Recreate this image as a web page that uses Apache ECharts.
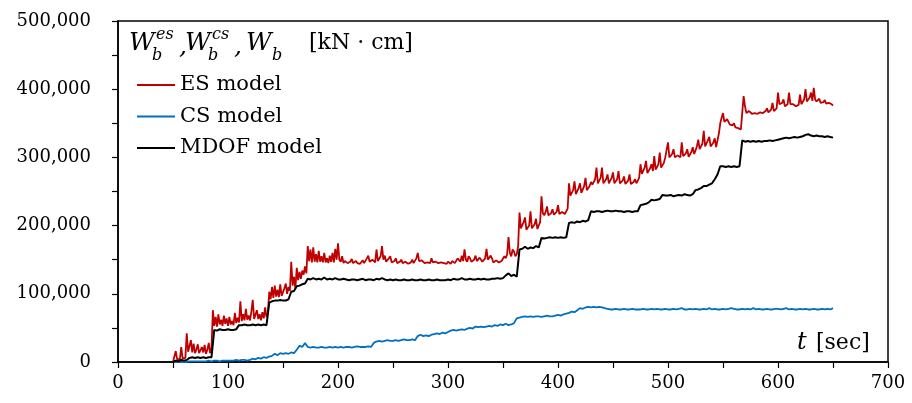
<!DOCTYPE html>
<html>
<head>
<meta charset="utf-8">
<script src="https://cdn.jsdelivr.net/npm/echarts@6/dist/echarts.min.js"></script>
<style>
  html, body { margin: 0; padding: 0; background: #fff; }
  #chart { width: 912px; height: 403px; }
</style>
</head>
<body>
<div id="chart"></div>
<script>
// Sampling grids of the response histories (seconds)
const T_START = 50;
const ES_STEP = 1.25;   // ES history is kept at a finer step
const T_STEP = 2.5;     // CS and MDOF histories
// Stored values are in thousands of kN·cm
const UNIT = 1000;

const seriesNames = ['ES model', 'CS model', 'MDOF model'];

// Cumulative energy, ES model (one row = 25 s)
const esModel = [
  0, 8, 16, 4, 5, 4, 22, 5, 4, 6, 42, 15, 13, 32, 14, 27, 13, 18, 26, 13,
  12, 22, 14, 25, 12, 18, 28, 13, 20, 76, 53, 66, 52, 70, 55, 62, 53, 68, 56, 64,
  53, 66, 55, 60, 54, 72, 57, 65, 58, 89, 60, 70, 61, 78, 62, 68, 61, 74, 91, 63,
  62, 76, 63, 70, 61, 73, 64, 80, 66, 72, 103, 92, 110, 94, 112, 96, 106, 95, 114, 97,
  98, 108, 115, 100, 110, 104, 147, 112, 125, 108, 138, 120, 132, 122, 134, 128, 140, 130, 170, 148,
  165, 146, 168, 147, 158, 146, 163, 147, 155, 146, 160, 146, 152, 145, 156, 147, 160, 146, 166, 150,
  174, 150, 147, 155, 145, 148, 150, 145, 144, 147, 151, 145, 146, 148, 145, 147, 144, 146, 149, 145,
  145, 152, 156, 147, 146, 150, 152, 146, 165, 148, 146, 155, 170, 150, 156, 147, 148, 152, 155, 146,
  145, 148, 152, 145, 144, 147, 150, 145, 145, 147, 148, 144, 144, 146, 150, 145, 145, 152, 160, 148,
  146, 149, 150, 145, 144, 146, 148, 145, 152, 146, 145, 147, 148, 145, 144, 146, 147, 145, 145, 144,
  147, 145, 144, 148, 150, 145, 145, 152, 153, 147, 156, 148, 165, 150, 147, 155, 152, 147, 146, 150,
  156, 148, 147, 153, 150, 147, 146, 152, 166, 150, 148, 156, 152, 146, 145, 149, 150, 146, 146, 148,
  148, 155, 152, 158, 183, 160, 155, 165, 162, 155, 158, 170, 219, 196, 195, 205, 212, 194, 192, 200,
  221, 196, 194, 202, 210, 195, 196, 205, 243, 218, 215, 220, 228, 215, 214, 218, 224, 216, 215, 220,
  230, 217, 216, 220, 222, 217, 217, 225, 262, 244, 243, 252, 265, 246, 245, 255, 262, 248, 250, 258,
  270, 252, 252, 258, 264, 260, 260, 268, 285, 262, 262, 270, 285, 262, 261, 268, 275, 262, 262, 270,
  278, 262, 260, 268, 280, 262, 262, 266, 272, 261, 260, 266, 275, 261, 260, 264, 268, 262, 262, 270,
  290, 276, 275, 285, 295, 277, 276, 284, 290, 280, 302, 282, 280, 290, 307, 285, 285, 292, 300, 298,
  322, 300, 298, 305, 312, 300, 300, 303, 305, 300, 322, 302, 300, 306, 312, 301, 302, 308, 315, 305,
  310, 316, 326, 312, 312, 320, 339, 316, 315, 325, 330, 316, 318, 322, 328, 315, 315, 335, 350, 358,
  365, 352, 352, 356, 358, 348, 348, 347, 350, 344, 344, 343, 342, 341, 341, 390, 375, 365, 365, 368,
  370, 364, 363, 365, 366, 364, 364, 366, 367, 365, 365, 368, 372, 366, 366, 370, 380, 368, 368, 372,
  395, 378, 376, 380, 385, 375, 374, 378, 395, 378, 376, 378, 378, 375, 375, 377, 392, 378, 377, 385,
  400, 382, 380, 388, 395, 383, 402, 385, 382, 384, 386, 380, 379, 381, 384, 379, 378, 380, 382, 378,
  376
];

// Cumulative energy, CS model (one row = 25 s)
const csModel = [
  0, 0, 0, 0, 0, 0, 1, 1, 1, 1,
  1, 1, 1, 2, 1, 2, 2, 1, 2, 2,
  2, 2, 2, 3, 2, 3, 3, 2, 3, 5,
  4, 6, 5, 7, 6, 8, 9, 12, 10, 13,
  12, 13, 12, 14, 13, 18, 24, 22, 28, 22,
  21, 22, 21, 21, 22, 21, 21, 22, 21, 22,
  21, 22, 21, 22, 22, 21, 22, 23, 22, 22,
  22, 23, 22, 28, 30, 31, 30, 31, 32, 31,
  31, 32, 31, 32, 33, 32, 32, 33, 32, 38,
  40, 38, 39, 38, 40, 41, 42, 41, 43, 42,
  44, 46, 47, 46, 47, 48, 47, 49, 50, 49,
  52, 51, 52, 51, 52, 53, 52, 54, 53, 55,
  54, 56, 54, 55, 57, 64, 65, 66, 67, 66,
  67, 66, 67, 67, 66, 67, 68, 67, 67, 68,
  69, 68, 70, 71, 72, 74, 73, 76, 79, 78,
  80, 81, 80, 81, 80, 81, 80, 79, 78, 77,
  77, 78, 77, 77, 78, 77, 77, 78, 77, 77,
  77, 78, 77, 77, 78, 77, 78, 77, 77, 78,
  77, 77, 78, 77, 78, 79, 77, 77, 78, 77,
  78, 77, 77, 78, 77, 79, 77, 78, 77, 77,
  78, 77, 78, 79, 78, 77, 77, 78, 77, 78,
  77, 79, 77, 78, 77, 77, 78, 77, 77, 78,
  78, 77, 78, 79, 77, 78, 77, 77, 78, 77,
  78, 77, 77, 78, 77, 77, 78, 77, 78, 77,
  79
];

// Cumulative energy, MDOF model (one row = 25 s)
const mdofModel = [
  0, 2, 1, 3, 2, 3, 6, 7, 6, 7,
  6, 7, 6, 7, 7, 47, 46, 48, 47, 47,
  48, 47, 47, 48, 54, 54, 55, 54, 54, 55,
  54, 55, 54, 55, 54, 87, 89, 90, 90, 91,
  90, 90, 92, 103, 104, 111, 112, 114, 115, 122,
  121, 123, 121, 122, 121, 124, 121, 122, 121, 123,
  121, 121, 122, 121, 120, 121, 121, 120, 121, 122,
  120, 121, 121, 120, 122, 121, 123, 121, 120, 121,
  120, 121, 120, 120, 121, 120, 120, 121, 120, 120,
  121, 120, 120, 121, 120, 120, 121, 120, 120, 120,
  121, 120, 122, 121, 121, 123, 121, 121, 122, 121,
  121, 122, 121, 122, 121, 121, 122, 122, 123, 122,
  123, 127, 130, 126, 128, 125, 165, 166, 169, 166,
  168, 167, 170, 168, 182, 181, 182, 183, 182, 183,
  182, 183, 182, 183, 204, 205, 204, 206, 205, 207,
  206, 208, 221, 220, 221, 221, 220, 221, 222, 221,
  221, 222, 221, 221, 220, 221, 221, 220, 221, 221,
  230, 231, 232, 234, 238, 237, 238, 239, 245, 244,
  244, 245, 243, 244, 245, 244, 246, 245, 244, 246,
  252, 253, 255, 258, 258, 260, 262, 268, 275, 287,
  287, 286, 287, 286, 287, 286, 287, 325, 323, 324,
  323, 324, 323, 324, 323, 324, 324, 325, 324, 325,
  326, 327, 328, 329, 328, 329, 330, 329, 330, 331,
  333, 334, 332, 331, 332, 331, 331, 330, 331, 330,
  329
];

// Axis ranges and ticks
const xTicks = { min: 0, max: 700, interval: 100 };
const yTicks = { min: 0, max: 500000, interval: 100000 };

const toPairs = (vals, step) => vals.map((v, i) => [T_START + i * step, v * UNIT]);

const FONT = 'DejaVu Serif';
const colors = ['#C00000', '#0070C0', '#000000'];
const lineWidths = [1.8, 1.8, 2];
const steps = [ES_STEP, T_STEP, T_STEP];

const chart = echarts.init(document.getElementById('chart'), null, { renderer: 'canvas' });

const axisCommon = {
  axisLine: { show: true, lineStyle: { color: '#000', width: 1.5 } },
  axisTick: { show: true, inside: false, length: 6, lineStyle: { color: '#000', width: 1.2 } },
  minorTick: { show: true, splitNumber: 2, length: 6, lineStyle: { color: '#000', width: 1.2 } },
  splitLine: { show: false },
  minorSplitLine: { show: false }
};

// Axis-title style label: W_b^es, W_b^cs, W_b  [kN · cm]
const italicBig = 'italic 25px "' + FONT + '"';
const italicSmall = 'italic 16px "' + FONT + '"';
function txt(x, y, text, font) {
  return {
    type: 'text', x: x, y: y, silent: true,
    style: { text: text, font: font, fill: '#000', textVerticalAlign: 'middle' }
  };
}
const titleParts = [
  txt(129, 43, 'W', italicBig),
  txt(156, 35, 'es', italicSmall),
  txt(152, 56, 'b', italicSmall),
  txt(179, 47, ',', italicBig),
  txt(185, 43, 'W', italicBig),
  txt(212, 35, 'cs', italicSmall),
  txt(208, 56, 'b', italicSmall),
  txt(234, 47, ',', italicBig),
  txt(246, 43, 'W', italicBig),
  txt(272, 56, 'b', italicSmall),
  txt(309, 43, '[kN · cm]', '22px "' + FONT + '"'),
  txt(797, 343, 't', 'italic 24px "' + FONT + '"'),
  txt(816, 343, '[sec]', '22px "' + FONT + '"')
];

chart.setOption({
  animation: false,
  backgroundColor: '#fff',
  grid: {
    left: 118, right: 24, top: 21, bottom: 41,
    show: true, borderColor: '#000', borderWidth: 1.5, backgroundColor: 'transparent'
  },
  legend: {
    orient: 'vertical',
    left: 132, top: 69,
    itemWidth: 38, itemHeight: 2, itemGap: 9.5,
    icon: 'rect',
    data: seriesNames,
    textStyle: { fontFamily: FONT, fontSize: 21, color: '#000', lineHeight: 22 }
  },
  xAxis: Object.assign({
    type: 'value',
    min: xTicks.min, max: xTicks.max, interval: xTicks.interval,
    axisLabel: { fontFamily: FONT, fontSize: 18, color: '#000', margin: 12 }
  }, axisCommon),
  yAxis: Object.assign({
    type: 'value',
    min: yTicks.min, max: yTicks.max, interval: yTicks.interval,
    axisLabel: {
      fontFamily: FONT, fontSize: 18, color: '#000', margin: 27,
      formatter: v => v.toLocaleString('en-US')
    }
  }, axisCommon),
  graphic: titleParts,
  series: [esModel, csModel, mdofModel].map((vals, k) => ({
    name: seriesNames[k],
    type: 'line',
    data: toPairs(vals, steps[k]),
    symbol: 'none',
    showSymbol: false,
    clip: true,
    color: colors[k],
    lineStyle: { color: colors[k], width: lineWidths[k] },
    z: 2 + k
  }))
});
</script>
</body>
</html>
